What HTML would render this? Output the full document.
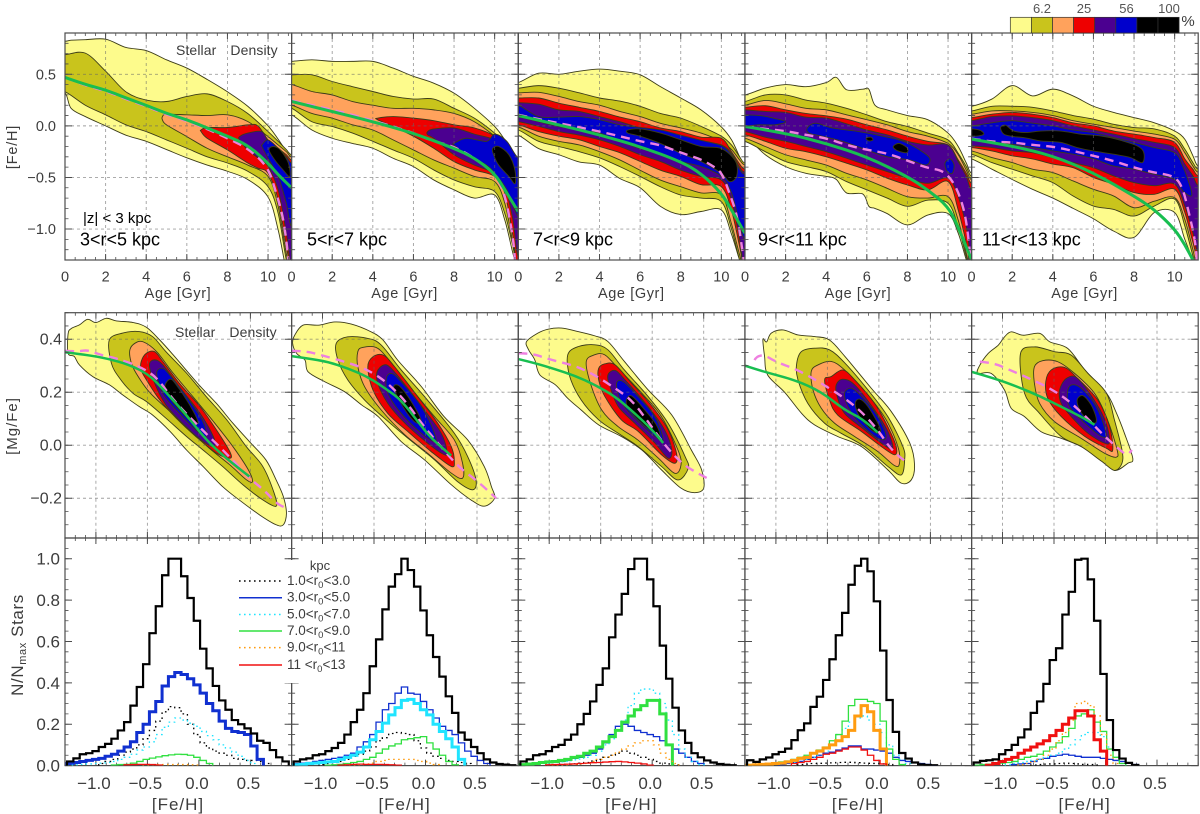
<!DOCTYPE html>
<html lang="en">
<head>
<meta charset="utf-8">
<title>Stellar density in age, metallicity and alpha abundance by radius</title>
<style>
html,body{margin:0;padding:0;background:#fff}
svg{display:block;font-family:"Liberation Sans",sans-serif}
</style>
</head>
<body>
<svg id="chart" width="1200" height="814" viewBox="0 0 1200 814"></svg>
<script>
/* ---------- shared axis values ---------- */
const ageGrid=[0,1,2,3,4,5,6,7,8,9,10,10.5,10.9,11.16];
const ageTicks=[0,2,4,6,8,10];
const fehTicksTop=[0.5,0,-0.5,-1];
const mgTicks=[0.4,0.2,0,-0.2];
const fehTicksBottom=[-1,-0.5,0,0.5];
const countTicks=[0,0.2,0.4,0.6,0.8,1];
const panelLabels=["3<r<5 kpc","5<r<7 kpc","7<r<9 kpc","9<r<11 kpc","11<r<13 kpc"];
const levelColors=["#FDFB8C","#C9C41C","#FFA25C","#EE0000","#4B0090","#0000CC","#000000"];
const colorbarSwatches=[0,1,2,3,4,5,6,6];
const colorbarLabels=["6.2","25","56","100"];
const legendLow=["1.0","3.0","5.0","7.0","9.0","11 "];
const legendHigh=["3.0","5.0","7.0","9.0","11","13"];

/* ---------- age / [Fe/H] contours: [level, ages, upper, lower] or [level, pairs] ---------- */
const ageFehR3=[
[0,[0,.3,1,2,3,4,5,6,7,8,9,10,10.5,10.9,11.16],[.82,.83,.835,.84,.76,.73,.64,.56,.45,.33,.19,0,-.13,-.25,-.33],[.32,.17,.09,0,-.09,-.15,-.23,-.31,-.38,-.44,-.52,-.69,-1.01,-1.4,-1.5]],
[1,ageGrid,[.69,.705,.53,.33,.25,.236,.285,.31,.236,.12,-.055,-.15,-.23,-.28],[.33,.2,.107,.01,-.055,-.136,-.217,-.3,-.36,-.44,-.59,-.85,-1.3,-1.43]],
[2,[4.8,5,6,7,8,9,10,10.5,10.9,11.16],[.09,.113,.107,.1,.107,.042,-.104,-.185,-.25,-.3],[.058,.01,-.104,-.217,-.3,-.38,-.49,-.78,-1.24,-1.45]],
[3,[6.7,7,8,9,9.5,10,10.5,10.9,11.16],[-.04,-.016,-.016,.01,0,-.136,-.217,-.28,-.33],[-.055,-.12,-.233,-.36,-.41,-.46,-.72,-1.17,-1.37]],
[4,[8.6,9,9.7,10,10.5,10.9,11.16],[-.104,-.07,-.055,-.15,-.233,-.3,-.36],[-.136,-.233,-.34,-.395,-.62,-1.04,-1.35]],
[5,[9.7,10,10.5,10.9,11.16],[-.185,-.136,-.217,-.3,-.36],[-.2,-.314,-.49,-.75,-.98]],
[6,[[10.05,-.233],[10.25,-.2],[10.6,-.233],[11,-.36],[11.07,-.49],[10.74,-.427],[10.33,-.33]]]
];
const ageFehR5=[
[0,ageGrid,[.625,.64,.625,.625,.625,.56,.48,.414,.317,.17,-.006,-.136,-.265,-.36],[.107,-.04,-.12,-.17,-.217,-.314,-.395,-.524,-.62,-.70,-.67,-.913,-1.236,-1.4]],
[1,ageGrid,[.495,.495,.43,.38,.333,.285,.26,.26,.17,.075,-.07,-.17,-.265,-.36],[.17,.04,-.006,-.07,-.15,-.233,-.314,-.427,-.524,-.59,-.637,-.85,-1.17,-1.4]],
[2,ageGrid,[.4,.333,.3,.236,.2,.17,.17,.155,.12,.04,-.1,-.2,-.3,-.395],[.2,.12,.075,.01,-.04,-.136,-.233,-.33,-.41,-.49,-.54,-.75,-1.14,-1.4]],
[3,[4.23,5,6,7,8,9,10,10.5,10.9,11.16],[.075,.09,.075,.05,.01,-.02,-.1,-.217,-.346,-.427],[.06,-.006,-.1,-.217,-.346,-.427,-.49,-.653,-1.07,-1.4]],
[4,[6.7,7,8,9,10,10.5,10.9,11.16],[-.055,-.03,-.02,-.08,-.136,-.25,-.36,-.46],[-.087,-.12,-.28,-.38,-.46,-.59,-.91,-1.27]],
[5,[8,8.6,9.6,10,10.6,11.16],[-.17,-.12,-.15,-.08,-.15,-.31],[-.185,-.275,-.38,-.46,-.62,-.88]],
[6,[[9.9,-.22],[10.2,-.2],[10.7,-.28],[11,-.43],[11,-.56],[10.7,-.49],[10.2,-.38],[9.95,-.28]]]
];
const ageFehR7=[
[0,ageGrid,[.42,.51,.5,.53,.55,.53,.495,.38,.27,.155,-.01,-.135,-.3,-.4],[-.09,-.22,-.28,-.35,-.38,-.51,-.6,-.78,-.86,-.83,-.815,-1.05,-1.3,-1.4]],
[1,ageGrid,[.365,.39,.365,.32,.27,.24,.19,.12,.075,-.005,-.1,-.185,-.3,-.36],[-.04,-.15,-.2,-.25,-.31,-.395,-.49,-.59,-.67,-.7,-.735,-1,-1.3,-1.4]],
[2,ageGrid,[.32,.325,.285,.235,.2,.14,.09,.025,-.02,-.07,-.15,-.23,-.33,-.38],[-.01,-.1,-.15,-.185,-.25,-.33,-.43,-.525,-.59,-.65,-.67,-.95,-1.25,-1.4]],
[3,ageGrid,[.27,.27,.22,.18,.14,.085,.04,-.02,-.055,-.11,-.12,-.25,-.37,-.42],[.01,-.055,-.1,-.135,-.2,-.26,-.345,-.43,-.49,-.57,-.59,-.82,-1.17,-1.4]],
[4,ageGrid,[.225,.21,.155,.14,.09,.04,-.02,-.07,-.105,-.15,-.185,-.265,-.4,-.45],[.04,-.005,-.055,-.09,-.135,-.2,-.28,-.345,-.43,-.49,-.525,-.72,-1.1,-1.4]],
[5,ageGrid,[.2,.09,.085,.09,.06,.01,-.015,-.04,-.09,-.14,-.19,-.28,-.42,-.47],[.085,.04,-.006,-.04,-.07,-.15,-.22,-.265,-.345,-.395,-.49,-.65,-.95,-1.1]],
[6,[[5.4,-.04],[6,-.03],[7,-.07],[8,-.135],[9,-.2],[10,-.22],[10.7,-.345],[10.75,-.49],[10.4,-.54],[10,-.46],[9,-.345],[8,-.265],[7,-.17],[6,-.1],[5.4,-.07]]]
];
const ageFehR9=[
[0,[0,1,2,3,4,4.5,5,5.8,6.1,6.4,7,8,9,10,10.5,10.9,11.16],[.3,.366,.4,.38,.42,.47,.35,.355,.355,.2,.155,.1,.06,-.07,-.2,-.36,-.46],[-.1,-.28,-.395,-.46,-.49,-.52,-.65,-.66,-.78,-.8,-.85,-.96,-.864,-.85,-1.04,-1.3,-1.43]],
[1,ageGrid,[.236,.3,.3,.25,.22,.17,.107,.04,-.006,-.07,-.136,-.265,-.395,-.49],[-.15,-.25,-.346,-.395,-.443,-.54,-.62,-.7,-.78,-.72,-.75,-.98,-1.27,-1.43]],
[2,ageGrid,[.2,.246,.214,.17,.155,.107,.06,.01,-.055,-.1,-.17,-.28,-.43,-.524],[-.12,-.2,-.28,-.33,-.38,-.46,-.524,-.605,-.686,-.7,-.686,-.913,-1.236,-1.43]],
[3,ageGrid,[.18,.195,.155,.12,.097,.065,.01,-.04,-.1,-.15,-.185,-.33,-.46,-.557],[-.087,-.15,-.217,-.25,-.3,-.362,-.427,-.507,-.573,-.62,-.54,-.815,-1.14,-1.4]],
[4,ageGrid,[.155,.14,.13,.085,.075,.02,-.04,-.087,-.15,-.185,-.185,-.346,-.49,-.62],[-.055,-.11,-.15,-.2,-.25,-.314,-.38,-.443,-.507,-.557,-.507,-.686,-.98,-1.27]],
[5,[[-.3,.097],[.7,.1],[1.5,.07],[2,.04],[1.5,.01],[.7,.01],[-.3,0]]],
[5,[[3.07,-.02],[3.48,.026],[4.3,-.02],[5.6,-.055],[6.8,-.1],[7.8,-.15],[8.6,-.233],[9.1,-.314],[8.9,-.38],[8.1,-.33],[7,-.3],[6,-.233],[4.8,-.15],[3.8,-.1],[3.15,-.07]]],
[5,[[9.85,-.36],[10.1,-.32],[10.3,-.38],[10.2,-.46],[9.95,-.44]]],
[6,[[7.3,-.2],[7.6,-.17],[8,-.217],[7.95,-.26],[7.5,-.24]]],
[6,[[5.96,-.12],[6.2,-.11],[6.3,-.136],[6.1,-.146]]]
];
const ageFehR11=[
[0,ageGrid,[.19,.26,.39,.29,.356,.29,.19,.13,.08,.03,-.05,-.13,-.29,-.39],[-.32,-.42,-.52,-.615,-.7,-.8,-.9,-1.02,-1.08,-.84,-.84,-1.1,-1.3,-1.42]],
[1,ageGrid,[.145,.19,.19,.18,.145,.1,.065,.015,-.016,-.03,-.1,-.226,-.356,-.42],[-.275,-.356,-.42,-.485,-.55,-.68,-.777,-.81,-.874,-.777,-.71,-.97,-1.26,-1.4]],
[2,ageGrid,[.113,.145,.145,.13,.1,.05,.016,-.016,-.05,-.08,-.13,-.26,-.39,-.45],[-.243,-.307,-.356,-.42,-.453,-.534,-.615,-.68,-.793,-.73,-.696,-.906,-1.2,-1.4]],
[3,ageGrid,[.08,.113,.13,.113,.08,.03,0,-.05,-.08,-.113,-.16,-.32,-.42,-.485],[-.21,-.243,-.29,-.32,-.37,-.405,-.5,-.566,-.647,-.663,-.615,-.84,-1.13,-1.29]],
[4,ageGrid,[.05,.09,.097,.08,.05,0,-.04,-.08,-.123,-.16,-.21,-.37,-.485,-.58],[-.194,-.21,-.243,-.26,-.307,-.356,-.405,-.485,-.55,-.58,-.566,-.777,-1.036,-1.23]],
[5,[0,1,2,3,4,5,6,7,8,9,10,10.4,10.8],[0,.03,.05,.026,0,-.04,-.065,-.113,-.16,-.21,-.26,-.39,-.615],[-.123,-.155,-.178,-.21,-.243,-.275,-.32,-.39,-.42,-.47,-.52,-.63,-.68]],
[6,[[-.3,-.03],[.36,-.04],[.6,-.08],[.2,-.1],[-.3,-.09]]],
[6,[[1.43,-.016],[1.67,.006],[2.08,-.05],[2.74,-.065],[3.4,-.05],[4.38,-.05],[5.36,-.08],[6.34,-.097],[7.16,-.13],[8.15,-.194],[8.48,-.26],[8.4,-.356],[7.82,-.307],[7,-.275],[6,-.243],[5.2,-.21],[4.38,-.16],[3.4,-.146],[3,-.13],[2.57,-.113],[2.08,-.104],[1.59,-.08]]]
];

/* ---------- age / [Fe/H] trend lines ---------- */
const ageFehGreenR3=[[0,.47],[1,.4],[2,.35],[3,.27],[4,.2],[5,.12],[6,.06],[7,-.02],[8,-.1],[9,-.185],[10,-.36],[10.5,-.475],[11.16,-.6]];
const ageFehGreenR5=[[0,.236],[2,.14],[4,.04],[6,-.07],[8,-.217],[9,-.31],[10,-.46],[10.5,-.62],[11.16,-.83]];
const ageFehGreenR7=[[0,.1],[2,.01],[4,-.087],[6,-.2],[8,-.346],[9,-.46],[10,-.65],[10.5,-.815],[11.16,-1.04]];
const ageFehGreenR9=[[0,-.006],[2,-.07],[4,-.17],[6,-.3],[8,-.49],[9,-.62],[10,-.78],[10.5,-.98],[11.16,-1.3]];
const ageFehGreenR11=[[0,-.13],[2,-.194],[4,-.29],[6,-.453],[8,-.68],[9,-.81],[10,-1],[10.5,-1.15],[10.9,-1.3]];
const ageFehPinkR3=[[0,.47],[1,.39],[2,.34],[3,.26],[4,.19],[5,.11],[6,.05],[7,-.03],[8,-.12],[9,-.217],[10,-.395],[10.4,-.65],[10.7,-.85],[10.9,-1.1],[11,-1.3]];
const ageFehPinkR5=[[0,.246],[1,.2],[2,.155],[3,.107],[4,.05],[5,-.006],[6,-.07],[7,-.15],[8,-.2],[9,-.31],[10,-.46],[10.5,-.65],[10.9,-1.07],[11,-1.3]];
const ageFehPinkR7=[[0,.107],[1,.065],[2,.026],[3,-.013],[4,-.055],[5,-.1],[6,-.15],[7,-.185],[8,-.26],[9,-.324],[9.5,-.38],[10,-.443],[10.4,-.65],[10.8,-.88],[11.1,-1.3]];
const ageFehPinkR9=[[0,-.006],[1,-.03],[2,-.05],[3,-.087],[4,-.12],[5,-.185],[6,-.233],[7,-.265],[8,-.337],[9,-.41],[9.7,-.43],[10.2,-.524],[10.6,-.686],[10.9,-.91],[11.1,-1.27]];
const ageFehPinkR11=[[0,-.123],[1,-.155],[2,-.16],[3,-.185],[4,-.2],[5,-.243],[6,-.29],[7,-.34],[8,-.405],[9,-.453],[10,-.485],[10.4,-.6],[10.7,-.84],[11,-1.1],[11.1,-1.3]];

/* ---------- [Fe/H] / [Mg/Fe] contours: [level, pairs] ---------- */
const mgFehR3=[
[0,[[-1.27,.42],[-1.24,.44],[-1.16,.454],[-1.08,.475],[-1,.463],[-.9,.479],[-.8,.469],[-.64,.463],[-.51,.445],[-.38,.397],[-.25,.341],[0,.228],[.17,.158],[.33,.083],[.49,.014],[.65,-.055],[.75,-.131],[.82,-.194],[.85,-.257],[.82,-.3],[.75,-.3],[.59,-.263],[.39,-.206],[.23,-.156],[.04,-.08],[-.12,-.018],[-.28,.052],[-.45,.114],[-.58,.146],[-.74,.19],[-.87,.228],[-1.03,.259],[-1.16,.303],[-1.21,.335],[-1.27,.347]]],
[1,[[-.87,.397],[-.74,.423],[-.58,.429],[-.45,.41],[-.32,.353],[-.12,.272],[.07,.184],[.27,.096],[.46,-.005],[.62,-.08],[.73,-.18],[.75,-.23],[.62,-.206],[.43,-.15],[.23,-.08],[.04,-.018],[-.12,.033],[-.32,.102],[-.51,.165],[-.64,.196],[-.77,.253],[-.85,.31]]],
[2,[[-.67,.36],[-.62,.385],[-.54,.39],[-.41,.353],[-.25,.272],[-.06,.184],[.14,.09],[.33,-.005],[.48,-.093],[.52,-.137],[.46,-.13],[.3,-.074],[.1,-.011],[-.09,.058],[-.28,.127],[-.48,.2],[-.61,.272],[-.66,.316]]],
[3,[[-.56,.316],[-.51,.347],[-.43,.353],[-.35,.316],[-.19,.234],[.01,.146],[.17,.058],[.3,-.024],[.3,-.049],[.17,-.03],[-.03,.033],[-.22,.102],[-.38,.171],[-.51,.247],[-.56,.284]]],
[4,[[-.48,.303],[-.43,.322],[-.35,.303],[-.19,.221],[.01,.121],[.14,.033],[.15,-.005],[.04,.014],[-.16,.083],[-.32,.152],[-.43,.234]]],
[5,[[-.41,.272],[-.35,.29],[-.27,.259],[-.12,.184],[.04,.089],[.07,.033],[-.03,.058],[-.22,.133],[-.35,.196]]],
[6,[[-.33,.221],[-.28,.249],[-.22,.228],[-.09,.152],[-.01,.089],[-.06,.083],[-.19,.133],[-.28,.177]]]
];
const mgFehR5=[
[0,[[-1.27,.415],[-1.19,.453],[-1.04,.453],[-.88,.465],[-.72,.457],[-.53,.428],[-.41,.396],[-.27,.321],[-.04,.221],[.18,.108],[.41,.02],[.57,-.08],[.64,-.156],[.67,-.2],[.57,-.23],[.44,-.206],[.25,-.149],[-.01,-.055],[-.236,.014],[-.46,.108],[-.62,.152],[-.786,.202],[-.98,.24],[-1.14,.277],[-1.17,.321],[-1.25,.346],[-1.29,.384]]],
[1,[[-.867,.384],[-.754,.409],[-.56,.403],[-.43,.378],[-.236,.284],[.02,.17],[.28,.045],[.41,-.043],[.49,-.13],[.46,-.168],[.31,-.137],[.087,-.055],[-.17,.026],[-.4,.102],[-.59,.17],[-.754,.246],[-.85,.321]]],
[2,[[-.657,.353],[-.61,.369],[-.48,.369],[-.366,.327],[-.14,.215],[.087,.108],[.28,.02],[.36,-.068],[.36,-.124],[.25,-.105],[.02,-.03],[-.2,.039],[-.43,.133],[-.59,.22],[-.657,.296]]],
[3,[[-.56,.296],[-.51,.334],[-.41,.34],[-.3,.296],[-.074,.183],[.12,.083],[.25,-.005],[.28,-.061],[.25,-.08],[.055,-.024],[-.17,.051],[-.366,.12],[-.51,.208]]],
[4,[[-.47,.277],[-.41,.302],[-.35,.296],[-.236,.246],[-.01,.133],[.152,.045],[.21,-.024],[.184,-.036],[.02,.008],[-.2,.083],[-.366,.158],[-.463,.233]]],
[5,[[-.38,.252],[-.333,.271],[-.25,.246],[-.04,.146],[.087,.045],[.087,.014],[-.04,.045],[-.236,.12],[-.366,.196]]],
[6,[[-.307,.215],[-.27,.227],[-.2,.2],[-.09,.133],[-.04,.089],[-.107,.089],[-.22,.146]]]
];
const mgFehR7=[
[0,[[-1.22,.391],[-1.11,.423],[-1.01,.438],[-.88,.442],[-.72,.429],[-.56,.413],[-.43,.391],[-.27,.316],[-.04,.209],[.19,.114],[.38,-.018],[.48,-.093],[.5,-.162],[.41,-.179],[.28,-.162],[.09,-.093],[-.1,-.018],[-.3,.033],[-.52,.077],[-.69,.133],[-.82,.177],[-.94,.228],[-1.09,.265],[-1.14,.322],[-1.2,.36]]],
[1,[[-.82,.341],[-.72,.372],[-.56,.379],[-.43,.36],[-.27,.284],[-.04,.184],[.155,.083],[.32,-.043],[.35,-.087],[.25,-.131],[.09,-.08],[-.136,-.005],[-.33,.045],[-.52,.096],[-.69,.171],[-.8,.259]]],
[2,[[-.64,.316],[-.56,.341],[-.46,.341],[-.33,.29],[-.1,.196],[.09,.108],[.25,-.018],[.28,-.074],[.22,-.106],[.06,-.049],[-.14,.02],[-.33,.07],[-.49,.133],[-.6,.234]]],
[3,[[-.52,.29],[-.46,.307],[-.36,.303],[-.2,.234],[0,.146],[.155,.058],[.236,-.03],[.22,-.068],[.09,-.036],[-.136,.052],[-.3,.096],[-.46,.184],[-.52,.247]]],
[4,[[-.43,.265],[-.36,.282],[-.265,.247],[-.04,.146],[.12,.058],[.19,-.018],[.155,-.049],[.026,.008],[-.17,.083],[-.33,.146],[-.41,.221]]],
[5,[[-.346,.234],[-.28,.24],[-.136,.184],[.026,.108],[.107,.02],[.026,.033],[-.2,.114],[-.31,.171]]],
[6,[[-.25,.171],[-.2,.186],[-.087,.14],[.04,.077],[.074,.033],[-.006,.052],[-.136,.096],[-.233,.14]]]
];
const mgFehR9=[
[0,[[-1.126,.4],[-1.09,.39],[-1.045,.423],[-.93,.435],[-.786,.416],[-.625,.41],[-.48,.397],[-.33,.335],[-.074,.215],[.12,.127],[.3,.008],[.346,-.074],[.314,-.131],[.217,-.143],[.087,-.093],[-.17,-.005],[-.4,.033],[-.625,.077],[-.75,.12],[-.916,.2],[-1.08,.265],[-1.11,.335]]],
[1,[[-.8,.303],[-.754,.353],[-.625,.366],[-.48,.36],[-.33,.31],[-.107,.209],[.087,.108],[.233,-.005],[.25,-.055],[.217,-.112],[.087,-.08],[-.14,-.005],[-.366,.045],[-.527,.083],[-.69,.158],[-.786,.247]]],
[2,[[-.657,.278],[-.592,.303],[-.463,.316],[-.333,.284],[-.107,.19],[.07,.096],[.184,-.005],[.2,-.068],[.152,-.077],[-.01,-.024],[-.236,.033],[-.43,.083],[-.56,.14],[-.64,.209]]],
[3,[[-.527,.247],[-.463,.259],[-.35,.284],[-.236,.247],[-.042,.158],[.087,.07],[.168,-.005],[.152,-.036],[.023,-.005],[-.17,.052],[-.4,.114],[-.48,.171]]],
[4,[[-.414,.228],[-.35,.249],[-.236,.228],[-.042,.133],[.087,.052],[.136,-.011],[.07,-.005],[-.14,.058],[-.333,.12],[-.405,.184]]],
[5,[[-.333,.196],[-.27,.215],[-.17,.184],[-.01,.108],[.07,.033],[-.01,.026],[-.2,.089],[-.3,.146]]],
[6,[[-.23,.156],[-.188,.174],[-.107,.146],[.006,.07],[.006,.045],[-.074,.058],[-.188,.108]]]
];
const mgFehR11=[
[0,[[-1.24,.271],[-1.22,.302],[-1.14,.346],[-1.04,.378],[-.98,.409],[-.915,.428],[-.8,.415],[-.64,.422],[-.54,.39],[-.366,.365],[-.2,.284],[.01,.196],[.1,.127],[.184,.045],[.265,-.05],[.217,-.068],[.09,-.095],[-.04,-.055],[-.236,-.005],[-.43,.026],[-.625,.051],[-.786,.108],[-.915,.139],[-.98,.208],[-1.11,.271]]],
[1,[[-.825,.346],[-.69,.371],[-.495,.353],[-.333,.34],[-.17,.271],[.01,.196],[.087,.095],[.16,-.018],[.16,-.068],[.087,-.095],[-.04,-.06],[-.236,-.005],[-.43,.033],[-.64,.12],[-.786,.196]]],
[2,[[-.69,.296],[-.61,.319],[-.463,.315],[-.3,.271],[-.107,.196],[.02,.095],[.113,-.018],[.104,-.045],[-.01,-.03],[-.236,.026],[-.495,.089],[-.64,.158],[-.69,.233]]],
[3,[[-.58,.24],[-.527,.284],[-.4,.294],[-.27,.252],[-.074,.17],[.04,.07],[.07,-.018],[.006,-.011],[-.2,.033],[-.43,.108],[-.56,.177]]],
[4,[[-.446,.208],[-.38,.252],[-.27,.252],[-.09,.158],[.006,.083],[.04,.014],[-.01,.008],[-.17,.045],[-.333,.108],[-.43,.158]]],
[5,[[-.37,.196],[-.333,.227],[-.236,.215],[-.09,.146],[.006,.045],[-.04,.033],[-.2,.083],[-.35,.146]]],
[6,[[-.275,.171],[-.22,.187],[-.14,.152],[-.09,.102],[-.107,.083],[-.19,.102],[-.25,.133]]]
];

/* ---------- [Fe/H] / [Mg/Fe] trend lines ---------- */
const mgGreenR3=[[-1.3,.351],[-1.09,.341],[-.9,.328],[-.67,.303],[-.48,.265],[-.32,.2],[-.12,.114],[.07,.02],[.265,-.05],[.49,-.118]];
const mgGreenR5=[[-1.3,.336],[-1.14,.327],[-.95,.315],[-.754,.29],[-.56,.258],[-.366,.208],[-.236,.17],[-.074,.089],[.055,.026],[.25,-.039]];
const mgGreenR7=[[-1.3,.325],[-1.14,.31],[-.945,.287],[-.75,.262],[-.557,.228],[-.36,.184],[-.17,.121],[0,.058],[.107,.008]];
const mgGreenR9=[[-1.3,.3],[-1.126,.278],[-.82,.247],[-.56,.202],[-.333,.133],[-.17,.102],[-.01,.048]];
const mgGreenR11=[[-1.3,.277],[-1.075,.252],[-.85,.22],[-.625,.183],[-.4,.139],[-.236,.108],[-.107,.077]];
const mgPinkR3=[[-1.3,.356],[-1.175,.353],[-1.08,.36],[-.96,.341],[-.8,.328],[-.576,.297],[-.414,.259],[-.25,.171],[0,.07],[.265,-.03],[.49,-.125],[.65,-.175],[.75,-.219],[.85,-.238]];
const mgPinkR5=[[-1.3,.356],[-1.175,.356],[-1.01,.34],[-.786,.315],[-.59,.29],[-.4,.246],[-.2,.17],[-.04,.083],[.12,.008],[.314,-.08],[.51,-.137],[.686,-.2]];
const mgPinkR7=[[-1.3,.347],[-1.17,.347],[-1.01,.325],[-.75,.3],[-.557,.265],[-.36,.215],[-.2,.171],[-.04,.089],[.12,.001],[.285,-.068],[.414,-.1],[.537,-.125]];
const mgPinkR9=[[-1.207,.321],[-1.19,.335],[-1.11,.341],[-1.01,.316],[-.786,.284],[-.56,.234],[-.333,.178],[-.17,.127],[-.01,.058],[.12,-.018],[.28,-.068]];
const mgPinkR11=[[-1.22,.315],[-1.09,.311],[-.93,.284],[-.74,.252],[-.54,.215],[-.366,.171],[-.19,.108],[-.04,.045],[.12,-.011],[.21,-.04],[.256,-.018]];

/* ---------- histograms: N/Nmax per [Fe/H] bin ---------- */
const histTotalR3=[.02,.035,.055,.06,.07,.09,.105,.13,.17,.21,.29,.38,.49,.64,.77,.92,1,1,.915,.81,.7,.565,.47,.385,.315,.27,.22,.2,.18,.155,.12,.11,.075,.04,.02];
const hist1R3=[0,0,0,0,0,.01,.02,.03,.05,.065,.08,.1,.13,.17,.215,.26,.285,.28,.25,.2,.15,.11,.085,.07,.06,.05,.035,.03,.025,.025,.02,.01];
const hist3R3=[.01,.015,.02,.025,.03,.035,.045,.055,.07,.09,.115,.16,.2,.26,.31,.385,.43,.45,.44,.42,.39,.35,.3,.265,.215,.18,.165,.16,.15,.095,.03];
const hist5R3=[.002,.004,.006,.008,.01,.012,.015,.02,.03,.04,.055,.075,.09,.115,.15,.185,.21,.23,.22,.205,.19,.165,.145,.125,.1,.085,.065,.045,.025,.01];
const hist7R3=[0,0,0,0,0,0,0,.003,.005,.006,.012,.02,.03,.036,.042,.048,.052,.055,.054,.05,.04,.025,.01];
const hist9R3=[0,0,0,0,0,0,0,0,0,0,0,0,.003,.004,.005,.005,.005,.005,.005,.004,.003];
const hist11R3=[0,0,0,0,0,0,0,0,0,.004,.005,.006,.006,.005,.003];

const histTotalR5=[.02,.03,.035,.05,.055,.07,.085,.11,.15,.21,.27,.35,.48,.61,.755,.865,.925,1,.945,.865,.75,.63,.525,.43,.335,.255,.16,.125,.09,.06,.03,.015,.008,.005,.002];
const hist1R5=[0,0,0,0,.005,.01,.015,.02,.03,.045,.055,.07,.09,.12,.135,.155,.16,.155,.15,.12,.085,.06,.045,.035,.025,.02,.015,.01];
const hist3R5=[.01,.012,.015,.02,.025,.03,.035,.04,.05,.06,.09,.115,.15,.21,.27,.3,.35,.38,.35,.345,.31,.27,.23,.19,.17,.15,.11,.07,.045,.025,.01];
const hist5R5=[.004,.006,.01,.012,.015,.018,.02,.03,.04,.05,.065,.09,.125,.165,.205,.245,.28,.315,.32,.3,.27,.245,.2,.165,.13,.09,.03];
const hist7R5=[0,0,0,0,0,.002,.004,.006,.01,.015,.02,.03,.04,.06,.08,.095,.105,.125,.13,.135,.14,.11,.08,.05,.02,.004];
const hist9R5=[0,0,0,0,0,0,0,0,.002,.003,.005,.008,.012,.02,.025,.03,.03,.03,.03,.025,.02,.012,.005];
const hist11R5=[0,0,0,0,0,0,0,.002,.004,.006,.007,.006,.006,.006,.005,.004,.002];

const histTotalR7=[.02,.03,.05,.055,.07,.09,.1,.125,.15,.2,.25,.31,.39,.47,.62,.73,.83,.95,1,1,.9,.77,.58,.42,.28,.17,.11,.06,.04,.025,.015,.008,.004,.002];
const hist1R7=[0,0,0,0,.002,.004,.005,.007,.009,.012,.015,.022,.03,.04,.05,.06,.07,.06,.05,.04,.03,.02,.012,.008,.004];
const hist3R7=[.005,.007,.01,.012,.015,.018,.02,.025,.035,.04,.05,.06,.08,.11,.15,.19,.2,.19,.17,.16,.15,.14,.12,.1,.08,.06,.04,.02,.01];
const hist5R7=[.004,.006,.008,.01,.012,.015,.018,.02,.028,.032,.04,.05,.07,.1,.13,.17,.22,.29,.35,.37,.37,.35,.3,.22,.15,.08,.04,.02,.005];
const hist7R7=[.005,.008,.01,.015,.018,.02,.025,.03,.04,.045,.06,.07,.09,.115,.14,.17,.21,.24,.27,.29,.315,.315,.25,.1];
const hist9R7=[0,0,0,0,0,.002,.003,.004,.006,.008,.01,.02,.03,.04,.05,.065,.08,.095,.11,.12,.12,.1,.06,.03,.01];
const hist11R7=[0,0,0,0,.004,.005,.006,.007,.008,.01,.012,.014,.015,.017,.019,.02,.018,.015,.012,.008,.002];

const histTotalR9=[.026,.018,.03,.039,.055,.066,.082,.123,.171,.204,.284,.333,.414,.514,.63,.738,.874,.966,1,.939,.794,.556,.317,.163,.061,.034,.015,.006,.003,.002];
const hist1R9=[0,0,0,0,0,0,0,0,.005,.007,.01,.011,.012,.013,.015,.016,.016,.014,.012,.011,.01,.008,.005];
const hist3R9=[0,0,0,0,0,.005,.01,.015,.02,.03,.04,.05,.06,.065,.075,.085,.095,.095,.08,.08,.075,.07,.06,.04,.025,.02,.015,.01,.006,.002];
const hist5R9=[.002,.003,.004,.005,.006,.008,.01,.015,.02,.03,.04,.05,.07,.1,.15,.18,.21,.23,.24,.22,.2,.16,.1,.05,.03,.01];
const hist7R9=[.005,.007,.008,.01,.014,.018,.022,.03,.04,.05,.06,.075,.09,.12,.15,.215,.29,.32,.32,.31,.3,.215,.08,.03,.005];
const hist9R9=[.002,.004,.006,.008,.01,.012,.018,.025,.035,.04,.06,.07,.085,.1,.12,.14,.17,.24,.29,.26,.17,.08];
const hist11R9=[0,0,0,0,0,0,0,.01,.015,.02,.03,.04,.055,.06,.07,.08,.09,.09,.075,.05,.025,.008];

const histTotalR11=[.015,.023,.026,.03,.055,.075,.1,.136,.175,.255,.31,.395,.51,.567,.73,.84,.995,1,.9,.7,.443,.22,.075,.034,.013,.003];
const hist1R11=[0,0,0,0,0,0,0,0,0,.003,.005,.007,.008,.01,.012,.01,.008,.006,.005,.003];
const hist3R11=[0,0,0,0,0,0,.005,.008,.01,.02,.03,.035,.045,.05,.055,.05,.045,.04,.04,.04,.035,.03,.025,.02,.012,.005];
const hist5R11=[0,0,0,0,0,.005,.01,.015,.02,.025,.03,.04,.05,.06,.08,.1,.125,.15,.16,.16,.14,.09,.04,.01];
const hist7R11=[.002,.005,.007,.009,.012,.015,.02,.03,.04,.045,.055,.07,.09,.11,.14,.18,.24,.25,.27,.21,.165,.08,.04,.01];
const hist9R11=[0,0,0,0,0,0,0,.005,.01,.02,.03,.05,.08,.12,.16,.22,.3,.31,.29,.24,.15,.05,.01];
const hist11R11=[0,0,.002,.01,.02,.03,.04,.06,.075,.09,.105,.12,.145,.17,.2,.23,.265,.265,.24,.125,.07];

const ageContourSets=[ageFehR3,ageFehR5,ageFehR7,ageFehR9,ageFehR11];
const ageGreenLines=[ageFehGreenR3,ageFehGreenR5,ageFehGreenR7,ageFehGreenR9,ageFehGreenR11];
const agePinkLines=[ageFehPinkR3,ageFehPinkR5,ageFehPinkR7,ageFehPinkR9,ageFehPinkR11];
const mgContourSets=[mgFehR3,mgFehR5,mgFehR7,mgFehR9,mgFehR11];
const mgGreenLines=[mgGreenR3,mgGreenR5,mgGreenR7,mgGreenR9,mgGreenR11];
const mgPinkLines=[mgPinkR3,mgPinkR5,mgPinkR7,mgPinkR9,mgPinkR11];
const histTotals=[histTotalR3,histTotalR5,histTotalR7,histTotalR9,histTotalR11];
const histSets=[
[hist1R3,hist3R3,hist5R3,hist7R3,hist9R3,hist11R3],
[hist1R5,hist3R5,hist5R5,hist7R5,hist9R5,hist11R5],
[hist1R7,hist3R7,hist5R7,hist7R7,hist9R7,hist11R7],
[hist1R9,hist3R9,hist5R9,hist7R9,hist9R9,hist11R9],
[hist1R11,hist3R11,hist5R11,hist7R11,hist9R11,hist11R11]];

/* ---------- layout and axis functions ---------- */
const NS="http://www.w3.org/2000/svg";
const svg=document.getElementById("chart");
const panelLeft=[65,291.6,518.3,745,971.6];
const panelW=226.6;
const rows={top:[33,260],mid:[312.7,538],bot:[538,765.6]};
const seriesColors=["#000000","#1030D0","#20E4FF","#30E040","#FF9C10","#F01010"];
const seriesDotted=[true,false,true,false,true,false];
const BIN0=-1.28,BINW=0.0615;

function mk(tag,attrs,parent){
  const el=document.createElementNS(NS,tag);
  for(const k in attrs)el.setAttribute(k,attrs[k]);
  (parent||svg).appendChild(el);
  return el;
}
function ageX(p,a){return panelLeft[p]+a/11.16*panelW;}
function fehX(p,f){return panelLeft[p]+(f+1.3)/2.2*panelW;}
function topY(f){return rows.top[0]+(0.9-f)/2.2*(rows.top[1]-rows.top[0]);}
function midY(m){return rows.mid[0]+(0.5-m)/0.85*(rows.mid[1]-rows.mid[0]);}
function botY(v){return rows.bot[0]+(1.1-v)/1.1*(rows.bot[1]-rows.bot[0]);}
function f1(n){return n.toFixed(1);}
function signed(v){return v<0?"\u2212"+f1(-v):f1(v);}
function closedSmooth(pts){
  const n=pts.length;
  const fmt=(x,y)=>x.toFixed(2)+" "+y.toFixed(2);
  let d="M"+fmt(pts[0][0],pts[0][1]);
  for(let i=0;i<n;i++){
    const a=pts[(i-1+n)%n],b=pts[i],c=pts[(i+1)%n],e=pts[(i+2)%n];
    d+="C"+fmt(b[0]+(c[0]-a[0])/6,b[1]+(c[1]-a[1])/6)+" "+fmt(c[0]-(e[0]-b[0])/6,c[1]-(e[1]-b[1])/6)+" "+fmt(c[0],c[1]);
  }
  return d+"Z";
}
function openSmooth(pts){
  let d="M"+pts[0][0].toFixed(2)+" "+pts[0][1].toFixed(2);
  for(let i=1;i<pts.length-1;i++){
    const mxv=(pts[i][0]+pts[i+1][0])/2,myv=(pts[i][1]+pts[i+1][1])/2;
    d+="Q"+pts[i][0].toFixed(2)+" "+pts[i][1].toFixed(2)+" "+mxv.toFixed(2)+" "+myv.toFixed(2);
  }
  const l=pts[pts.length-1];
  return d+"L"+l[0].toFixed(2)+" "+l[1].toFixed(2);
}
function contourPoints(level,xf,yf){
  if(level.length===2)return level[1].map(p=>[xf(p[0]),yf(p[1])]);
  const xs=level[1],hi=level[2],lo=level[3],out=[];
  const last=xs[xs.length-1];
  if(xs[0]===0)out.push([xf(-0.6),yf(hi[0])]);
  xs.forEach((x,i)=>out.push([xf(x),yf(hi[i])]));
  if(last>=11.16){
    out.push([xf(last+0.6),yf(hi[hi.length-1])]);
    out.push([xf(last+0.6),yf(lo[lo.length-1])]);
  }
  for(let i=xs.length-1;i>=0;i--)out.push([xf(xs[i]),yf(lo[i])]);
  if(xs[0]===0)out.push([xf(-0.6),yf(lo[0])]);
  return out;
}
function tickPath(vals,len,horizontal,a,b,scale){
  let d="";
  vals.forEach(v=>{
    const s=scale(v);
    if(horizontal)d+="M"+s+" "+a+"V"+(a-len)+"M"+s+" "+b+"V"+(b+len);
    else d+="M"+a+" "+s+"H"+(a+len)+"M"+b+" "+s+"H"+(b-len);
  });
  return d;
}
function range(from,to,step){
  const out=[];
  const n=Math.round((to-from)/step);
  for(let i=0;i<=n;i++)out.push(+(from+i*step).toFixed(4));
  return out;
}

const defs=mk("defs",{});
for(let p=0;p<5;p++){
  ["top","mid","bot"].forEach(r=>{
    const c=mk("clipPath",{id:"clip-"+r+p},defs);
    mk("rect",{x:panelLeft[p],y:rows[r][0],width:panelW,height:rows[r][1]-rows[r][0]},c);
  });
}

function drawContours(group,levels,xf,yf){
  levels.forEach(level=>{
    const path=mk("path",{d:closedSmooth(contourPoints(level,xf,yf)),fill:levelColors[level[0]],stroke:"#3c3c18","stroke-width":0.9,"stroke-linejoin":"round"},group);
    
    
  });
}
function drawTrend(group,pts,xf,yf,color,dash,width,name){
  const path=mk("path",{d:openSmooth(pts.map(q=>[xf(q[0]),yf(q[1])])),fill:"none",stroke:color,"stroke-width":width,"stroke-dasharray":dash,"stroke-linecap":"butt"},group);
  
  
}
function drawGrid(group,xs,ys,xf,yf,y0,y1,x0,x1){
  let d="";
  xs.forEach(v=>{d+="M"+xf(v)+" "+y0+"V"+y1;});
  ys.forEach(v=>{d+="M"+x0+" "+yf(v)+"H"+x1;});
  const g=mk("path",{d:d,fill:"none",stroke:"#666","stroke-opacity":0.62,"stroke-width":0.9,"stroke-dasharray":"3 3"},group);
  
  
}
function drawFrame(group,x,y0,y1){
  const r=mk("rect",{x:x,y:y0,width:panelW,height:y1-y0,fill:"none",stroke:"#4c4c4c","stroke-width":1.2},group);
  
  
}
function drawTicks(group,d,width){
  const t=mk("path",{d:d,fill:"none",stroke:"#4c4c4c","stroke-width":width},group);
  
  
}
function label(parent,x,y,str,size,anchor,name,extra){
  const attrs={x:x,y:y,"font-size":size,"text-anchor":anchor,fill:"#3c3c3c"};
  if(extra)for(const k in extra)attrs[k]=extra[k];
  const t=mk("text",attrs,parent);
  t.textContent=str;
  
  
  return t;
}

/* ---------- top row: age vs [Fe/H] ---------- */
for(let p=0;p<5;p++){
  const g=mk("g",{});
  
  
  const xf=a=>ageX(p,a);
  const inner=mk("g",{"clip-path":"url(#clip-top"+p+")"},g);
  drawContours(inner,ageContourSets[p],xf,topY);
  drawGrid(inner,ageTicks.slice(1),fehTicksTop,xf,topY,rows.top[0],rows.top[1],panelLeft[p],panelLeft[p]+panelW);
  drawTrend(inner,agePinkLines[p],xf,topY,"#EE80E0","9 6",2.4,"median-age-metallicity-line");
  drawTrend(inner,ageGreenLines[p],xf,topY,"#18BE50","",3,"model-age-metallicity-line");
  drawFrame(g,panelLeft[p],rows.top[0],rows.top[1]);
  drawTicks(g,tickPath(ageTicks,6,true,rows.top[1],rows.top[0],xf),1);
  drawTicks(g,tickPath(range(0,11,0.5),3,true,rows.top[1],rows.top[0],xf),0.8);
  drawTicks(g,tickPath(fehTicksTop,7,false,panelLeft[p],panelLeft[p]+panelW,topY),1);
  drawTicks(g,tickPath(range(-1.2,0.8,0.1),3.5,false,panelLeft[p],panelLeft[p]+panelW,topY),0.8);
  ageTicks.forEach(a=>{
    label(g,xf(a),281.5,String(a),14.5,"middle","x-tick-label");
  });
  label(g,panelLeft[p]+113,298,"Age [Gyr]",14.5,"middle","x-axis-title",{"letter-spacing":0.6});
}
fehTicksTop.forEach(v=>{
  label(svg,56,topY(v)+5,signed(v),14.5,"end","y-tick-label");
});
label(svg,17,147,"[Fe/H]",14.5,"middle","y-axis-title",{transform:"rotate(-90 17 147)","letter-spacing":0.8});
label(svg,176,55,"Stellar Density",14,"start","stellar-density-title",{"letter-spacing":0.1,"word-spacing":10});
label(svg,83,223,"|z| < 3 kpc",15,"start","height-cut-label",{fill:"#000"});
const panelLabelX=[80,307,533,758,982];
panelLabels.forEach((s,i)=>{
  label(svg,panelLabelX[i],245.5,s,18,"start","radius-bin-label",{fill:"#000"});
});

/* ---------- middle row: [Fe/H] vs [Mg/Fe] ---------- */
for(let p=0;p<5;p++){
  const g=mk("g",{});
  
  
  const xf=f=>fehX(p,f);
  const inner=mk("g",{"clip-path":"url(#clip-mid"+p+")"},g);
  drawContours(inner,mgContourSets[p],xf,midY);
  drawGrid(inner,fehTicksBottom,mgTicks,xf,midY,rows.mid[0],rows.mid[1],panelLeft[p],panelLeft[p]+panelW);
  drawTrend(inner,mgPinkLines[p],xf,midY,"#EE80E0","9 6",2.4,"median-alpha-line");
  drawTrend(inner,mgGreenLines[p],xf,midY,"#18BE50","",2.5,"model-alpha-line");
  drawFrame(g,panelLeft[p],rows.mid[0],rows.mid[1]);
  drawTicks(g,tickPath(fehTicksBottom,6,true,rows.mid[1],rows.mid[0],xf),1);
  drawTicks(g,tickPath(range(-1.3,0.9,0.1),3,true,rows.mid[1],rows.mid[0],xf),0.8);
  drawTicks(g,tickPath(mgTicks,7,false,panelLeft[p],panelLeft[p]+panelW,midY),1);
  drawTicks(g,tickPath(range(-0.35,0.5,0.05),3.5,false,panelLeft[p],panelLeft[p]+panelW,midY),0.8);
}
mgTicks.forEach(v=>{
  label(svg,62,midY(v)+5.5,signed(v),16,"end","y-tick-label");
});
label(svg,17,426,"[Mg/Fe]",15,"middle","y-axis-title",{transform:"rotate(-90 17 426)","letter-spacing":1});
label(svg,175,337,"Stellar Density",14,"start","stellar-density-title",{"letter-spacing":0.1,"word-spacing":10});

/* ---------- bottom row: histograms ---------- */
function histPath(p,vals){
  let first=0;
  while(first<vals.length&&vals[first]===0)first++;
  let d="M"+fehX(p,BIN0+first*BINW).toFixed(2)+" "+botY(0).toFixed(2);
  for(let i=first;i<vals.length;i++){
    d+="V"+botY(vals[i]).toFixed(2)+"H"+fehX(p,BIN0+(i+1)*BINW).toFixed(2);
  }
  return d+"V"+botY(0).toFixed(2);
}
for(let p=0;p<5;p++){
  const g=mk("g",{});
  
  
  const xf=f=>fehX(p,f);
  drawFrame(g,panelLeft[p],rows.bot[0],rows.bot[1]);
  drawTicks(g,tickPath(fehTicksBottom,6,true,rows.bot[1],rows.bot[0],xf),1);
  drawTicks(g,tickPath(range(-1.3,0.9,0.1),3,true,rows.bot[1],rows.bot[0],xf),0.8);
  drawTicks(g,tickPath(countTicks,7,false,panelLeft[p],panelLeft[p]+panelW,botY),1);
  drawTicks(g,tickPath(range(0,1.1,0.05),3.5,false,panelLeft[p],panelLeft[p]+panelW,botY),0.8);
  fehTicksBottom.forEach(v=>{
    label(g,xf(v)-2,789,signed(v),17,"middle","x-tick-label");
  });
  label(g,panelLeft[p]+113,810,"[Fe/H]",17,"middle","x-axis-title",{"letter-spacing":1});
}
/* legend backdrop hides the panel divider behind the legend */
const legendBack=mk("rect",{x:236,y:560,width:118,height:123,fill:"#fff"});


for(let p=0;p<5;p++){
  const inner=mk("g",{"clip-path":"url(#clip-bot"+p+")"});
  
  
  histSets[p].forEach((vals,s)=>{
    const thick=(s===p+1);
    const line=mk("path",{d:histPath(p,vals),fill:"none",stroke:seriesColors[s],"stroke-width":thick?3:1.3,"stroke-dasharray":seriesDotted[s]&&!thick?"1.6 3.4":"","stroke-linejoin":"miter"},inner);
    
    
  });
  const total=mk("path",{d:histPath(p,histTotals[p]),fill:"none",stroke:"#000","stroke-width":2.2},inner);
  
  
}
countTicks.forEach(v=>{
  label(svg,60,botY(v)+6,f1(v),17,"end","y-tick-label");
});
const yTitle=label(svg,23,645,"",17,"middle","y-axis-title",{transform:"rotate(-90 23 645)","letter-spacing":0.6});
const yt1=mk("tspan",{},yTitle);yt1.textContent="N/N";
const yt2=mk("tspan",{"font-size":11,dy:3},yTitle);yt2.textContent="max";
const yt3=mk("tspan",{dy:-3},yTitle);yt3.textContent=" Stars";

/* legend */
label(svg,320,570,"kpc",13,"middle","legend-title");
const legendRows=[581,597.7,614.5,631,647.6,665];
legendRows.forEach((y,i)=>{
  const line=mk("line",{x1:239,x2:282,y1:y,y2:y,stroke:seriesColors[i],"stroke-width":1.5,"stroke-dasharray":seriesDotted[i]?"1.6 3.4":""});
  
  
  const t=label(svg,287,y+4,"",13.5,"start","legend-label");
  const a=mk("tspan",{},t);a.textContent=legendLow[i]+"<r";
  const b=mk("tspan",{"font-size":9.5,dy:3},t);b.textContent="0";
  const c=mk("tspan",{dy:-3},t);c.textContent="<"+legendHigh[i];
});

/* colorbar */
const cb=mk("g",{});


colorbarSwatches.forEach((c,i)=>{
  const r=mk("rect",{x:1010.3+i*21.1,y:17.3,width:21.1,height:15.7,fill:levelColors[c],stroke:"#333","stroke-width":0.7},cb);
  
  
});
const colorbarLabelX=[1042,1084,1126.5,1169];
colorbarLabels.forEach((s,i)=>{
  label(cb,colorbarLabelX[i],13,s,13,"middle","colorbar-label",{fill:"#555"});
});
label(cb,1188,26,"%",15,"middle","colorbar-unit");
</script>
</body>
</html>
